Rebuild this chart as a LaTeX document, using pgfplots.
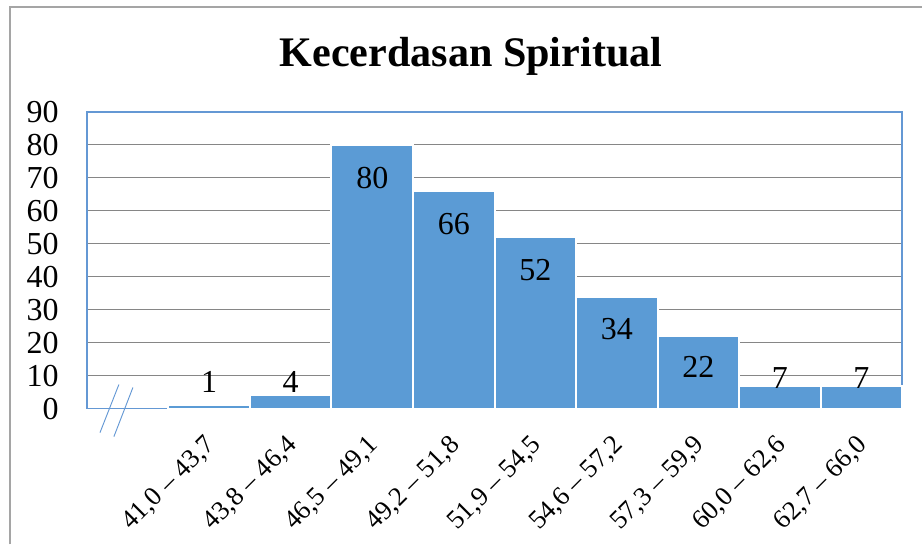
\documentclass[border=0pt]{standalone}
\usepackage{fontspec}
\setmainfont{Liberation Serif}
\usepackage{pgfplots}
\pgfplotsset{compat=1.18}
\definecolor{barblue}{RGB}{91,155,213}
\definecolor{frameblue}{RGB}{100,152,212}
\definecolor{gridgray}{RGB}{134,134,134}
\definecolor{outergray}{RGB}{165,165,165}
\pgfplotstableread{
x y
1 1
2 4
3 80
4 66
5 52
6 34
7 22
8 7
9 7
}\bars
\pgfplotstableread{
x y lab
1 8.2 1
2 8.2 4
3 70 80
4 56 66
5 42 52
6 24 34
7 12.7 22
8 9.2 7
9 9.2 7
}\labs
\begin{document}
\begin{tikzpicture}
\path (0pt,0pt) rectangle (692.25pt,408.75pt);
\draw[outergray, line width=1.3pt] (7.5pt,0pt) -- (7.5pt,403.5pt) -- (692.25pt,403.5pt);
\node[anchor=base, font=\fontsize{31.6}{36}\selectfont\bfseries] at (353.6pt,358.5pt) {Kecerdasan Spiritual};
\begin{axis}[
  at={(65.25pt,102pt)}, anchor=south west,
  scale only axis, width=612pt, height=222.75pt,
  xmin=-0.5, xmax=9.5, ymin=0, ymax=90,
  ytick={0,10,...,90},
  xtick={1,...,9},
  xticklabels={{41,0 – 43,7},{43,8 – 46,4},{46,5 – 49,1},{49,2 – 51,8},{51,9 – 54,5},{54,6 – 57,2},{57,3 – 59,9},{60,0 – 62,6},{62,7 – 66,0}},
  major tick length=0pt,
  ymajorgrids,
  grid style={gridgray, line width=0.75pt},
  axis line style={frameblue, line width=1.1pt},
  /pgf/number format/assume math mode=true,
  yticklabel style={font=\fontsize{24}{28}\selectfont, inner sep=0pt, anchor=east, xshift=-21pt},
  xticklabel style={font=\fontsize{20}{23}\selectfont, inner sep=0pt, rotate=45, anchor=east, xshift=-16pt, yshift=-18.5pt},
  clip=false,
]
\addplot[ybar, bar width=1, fill=barblue, draw=white, line width=1.5pt] table[x=x,y=y] {\bars};
\addplot[draw=none, mark=none, forget plot, nodes near coords, point meta=explicit symbolic,
  nodes near coords style={anchor=center, inner sep=0pt, font=\fontsize{24}{28}\selectfont}]
  table[x=x, y=y, meta=lab] {\labs};
\draw[frameblue, line width=0.7pt] (axis cs:-0.34,-7.3) -- (axis cs:-0.108,7.3);
\draw[frameblue, line width=0.7pt] (axis cs:-0.169,-8.5) -- (axis cs:0.064,6.4);
\end{axis}
\end{tikzpicture}
\end{document}
